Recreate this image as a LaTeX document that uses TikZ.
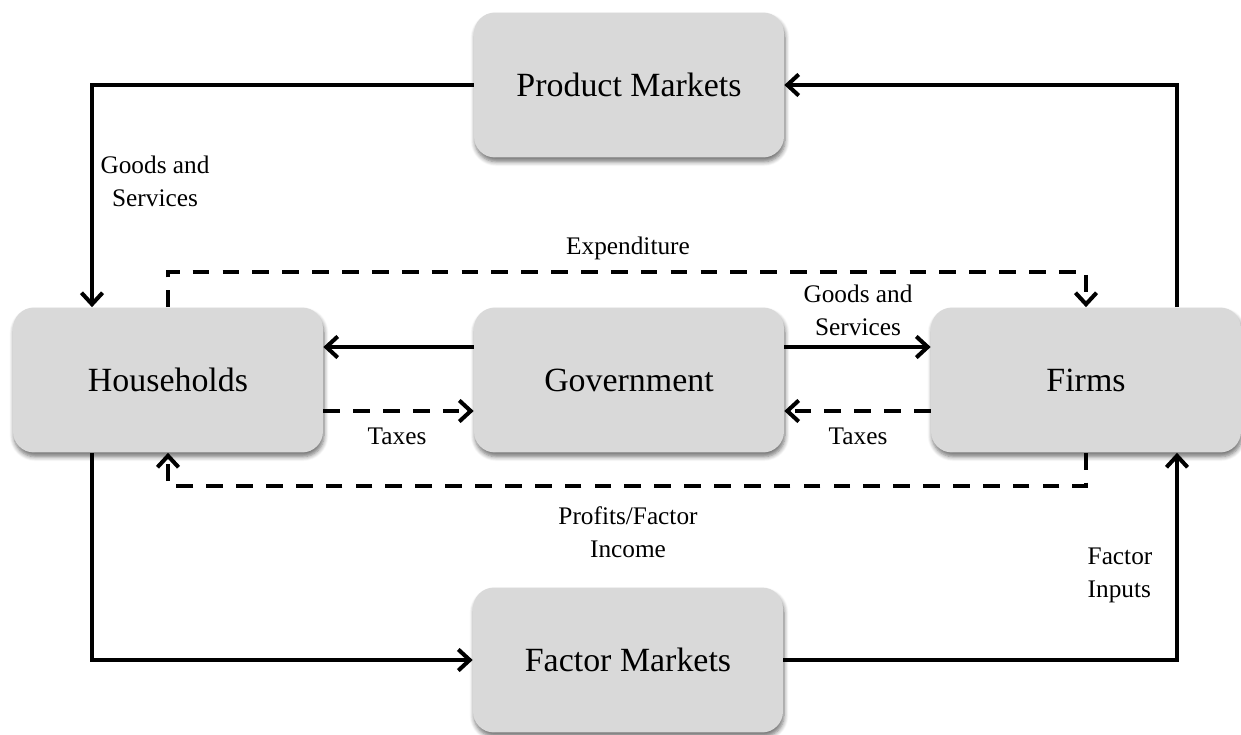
\documentclass[tikz,border=0pt]{standalone}
\usepackage{fontspec}
\setmainfont{Liberation Serif}
\usetikzlibrary{arrows.meta,calc,shadows.blur}

\definecolor{boxgray}{HTML}{D9D9D9}

\tikzset{
  sector/.style={rounded corners=0.42cm, fill=boxgray,
    minimum width=6.2cm, minimum height=2.9cm,
    blur shadow={shadow xshift=0.6pt, shadow yshift=-2.4pt,
      shadow blur steps=6, shadow blur radius=2.5pt, shadow opacity=55},
    font=\fontsize{19.3}{23}\selectfont},
  flow/.style={line width=2.3pt, -{Straight Barb[length=6.5pt,width=12pt,line width=2.3pt]}},
  dflow/.style={flow, dash pattern=on 9.5pt off 7.5pt},
  lbl/.style={align=center, font=\fontsize{14.4}{18.8}\selectfont}
}

\begin{document}
\begin{tikzpicture}[x=0.02cm,y=-0.02cm]
    \useasboundingbox (0,0) rectangle (1241,734);

    % the five sectors
    \node[sector] (prod) at (629,85)  {Product Markets};
    \node[sector] (hh)   at (168,380) {Households};
    \node[sector] (gov)  at (629,380) {Government};
    \node[sector] (firm) at (1086,380) {Firms};
    \node[sector] (fac)  at (628,660) {Factor Markets};

    % outer loop, solid
    \draw[flow] (prod.west) -| ($(hh.north)+(-76,0)$);
    \draw[flow] ($(firm.north)+(91,0)$) |- (prod.east);
    \draw[flow] ($(hh.south)+(-76,0)$) |- (fac.west);
    \draw[flow] (fac.east) -| ($(firm.south)+(91,0)$);

    % inner loop, dashed
    \draw[dflow] (hh.north) -- ++(0,-35) -| (firm.north);
    \draw[dflow] (firm.south) -- ++(0,33) -| (hh.south);

    % government links
    \draw[flow]  ([yshift=0.66cm]gov.west) -- ([yshift=0.66cm]hh.east);
    \draw[flow]  ([yshift=0.66cm]gov.east) -- ([yshift=0.66cm]firm.west);
    \draw[dflow] ([yshift=-0.62cm]hh.east) -- ([yshift=-0.62cm]gov.west);
    \draw[dflow] ([yshift=-0.62cm]firm.west) -- ([yshift=-0.62cm]gov.east);

    % labels
    \node[lbl] (gsl)  at (155,181) {Goods and\\Services};
    \node[lbl] (exp)  at (628,248) {Expenditure};
    \node[lbl] (gsr)  at (858,310) {Goods and\\Services};
    \node[lbl] (taxl) at (397,436) {Taxes};
    \node[lbl] (taxr) at (858,436) {Taxes};
    \node[lbl] (prof) at (628,532) {Profits/Factor\\Income};
    \node[lbl, align=left] (fin) at (1120,575) {Factor\\Inputs};

\end{tikzpicture}
\end{document}
